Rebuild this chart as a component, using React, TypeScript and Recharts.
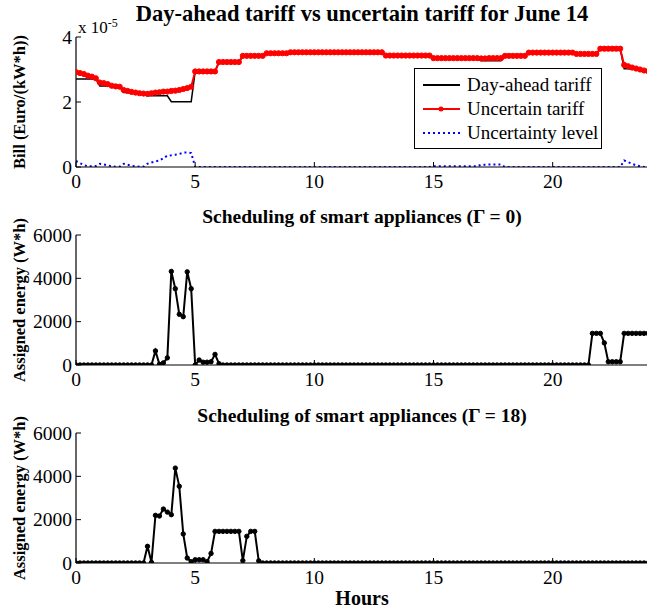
import { LineChart, Line, XAxis, YAxis, Legend } from "recharts";

// one sample every 10 minutes, 0h .. 24h
const hours = Array.from({ length: 145 }, (_, i) => i / 6);
const hourTicks = [0, 5, 10, 15, 20];
const billTicks = [0, 2, 4];
const energyTicks = [0, 2000, 4000, 6000];

// tariffs in units of 1e-5 Euro/(kW*h)
const dayAheadTariff = [
  2.71, 2.71, 2.71, 2.71, 2.71, 2.71, 2.49, 2.49, 2.49, 2.49, 2.49, 2.49,
  2.29, 2.29, 2.29, 2.29, 2.29, 2.29, 2.19, 2.19, 2.19, 2.19, 2.19, 2.19,
  2.01, 2.01, 2.01, 2.01, 2.01, 2.01, 2.94, 2.94, 2.94, 2.94, 2.94, 2.94,
  3.23, 3.23, 3.23, 3.23, 3.23, 3.23, 3.42, 3.42, 3.42, 3.42, 3.42, 3.42,
  3.5, 3.5, 3.5, 3.5, 3.5, 3.5, 3.53, 3.53, 3.53, 3.53, 3.53, 3.53,
  3.53, 3.53, 3.53, 3.53, 3.53, 3.53, 3.53, 3.53, 3.53, 3.53, 3.53, 3.53,
  3.53, 3.53, 3.53, 3.53, 3.53, 3.53, 3.43, 3.43, 3.43, 3.43, 3.43, 3.43,
  3.43, 3.43, 3.43, 3.43, 3.43, 3.43, 3.33, 3.33, 3.33, 3.33, 3.33, 3.33,
  3.33, 3.33, 3.33, 3.33, 3.33, 3.33, 3.27, 3.27, 3.27, 3.27, 3.27, 3.27,
  3.42, 3.42, 3.42, 3.42, 3.42, 3.42, 3.52, 3.52, 3.52, 3.52, 3.52, 3.52,
  3.52, 3.52, 3.52, 3.52, 3.52, 3.52, 3.48, 3.48, 3.48, 3.48, 3.48, 3.48,
  3.64, 3.64, 3.64, 3.64, 3.64, 3.64, 3.02, 3.02, 3.01, 3.0, 2.98, 2.97,
  2.96,
];

const uncertainTariff = [
  2.92, 2.89, 2.86, 2.81, 2.78, 2.73, 2.6, 2.58, 2.55, 2.5, 2.48, 2.47,
  2.37, 2.34, 2.31, 2.29, 2.27, 2.26, 2.25, 2.27, 2.29, 2.3, 2.32, 2.32,
  2.34, 2.35, 2.37, 2.4, 2.43, 2.47, 2.94, 2.94, 2.94, 2.94, 2.94, 2.94,
  3.23, 3.23, 3.23, 3.23, 3.23, 3.23, 3.42, 3.42, 3.42, 3.42, 3.42, 3.42,
  3.5, 3.5, 3.5, 3.5, 3.5, 3.5, 3.53, 3.53, 3.53, 3.53, 3.53, 3.53,
  3.53, 3.53, 3.53, 3.53, 3.53, 3.53, 3.53, 3.53, 3.53, 3.53, 3.53, 3.53,
  3.53, 3.53, 3.53, 3.53, 3.53, 3.53, 3.43, 3.43, 3.43, 3.43, 3.43, 3.43,
  3.43, 3.43, 3.43, 3.43, 3.43, 3.43, 3.35, 3.35, 3.35, 3.35, 3.35, 3.35,
  3.35, 3.35, 3.35, 3.35, 3.35, 3.35, 3.34, 3.34, 3.35, 3.35, 3.35, 3.35,
  3.42, 3.42, 3.42, 3.42, 3.42, 3.42, 3.52, 3.52, 3.52, 3.52, 3.52, 3.52,
  3.52, 3.52, 3.52, 3.52, 3.52, 3.52, 3.48, 3.48, 3.48, 3.48, 3.48, 3.48,
  3.64, 3.64, 3.64, 3.64, 3.64, 3.64, 3.14, 3.1, 3.06, 3.03, 3.0, 2.97,
  2.95,
];

const uncertaintyLevel = [
  0.19, 0.12, 0.06, 0.02, 0.02, 0.03, 0.1, 0.08, 0.05, 0.02, 0.01, 0.01,
  0.1, 0.07, 0.04, 0.02, 0.01, 0.01, 0.1, 0.14, 0.17, 0.2, 0.27, 0.35,
  0.36, 0.38, 0.4, 0.44, 0.45, 0.43, 0, 0, 0, 0, 0, 0,
  0, 0, 0, 0, 0, 0, 0, 0, 0, 0, 0, 0,
  0, 0, 0, 0, 0, 0, 0, 0, 0, 0, 0, 0,
  0, 0, 0, 0, 0, 0, 0, 0, 0, 0, 0, 0,
  0, 0, 0, 0, 0, 0, 0, 0, 0, 0, 0, 0,
  0, 0, 0, 0, 0, 0, 0.02, 0.02, 0.02, 0.02, 0.02, 0.02,
  0.02, 0.02, 0.02, 0.02, 0.02, 0.02, 0.07, 0.07, 0.08, 0.08, 0.08, 0.08,
  0, 0, 0, 0, 0, 0, 0, 0, 0, 0, 0, 0,
  0, 0, 0, 0, 0, 0, 0, 0, 0, 0, 0, 0,
  0, 0, 0, 0, 0, 0, 0.2, 0.15, 0.1, 0.05, 0.02, 0,
  0,
];

// assigned energy (W*h), gamma = 0
const energyGamma0 = [
  0, 0, 0, 0, 0, 0, 0, 0, 0, 0, 0, 0,
  0, 0, 0, 0, 0, 0, 0, 0, 650, 30, 100, 330,
  4320, 3520, 2340, 2230, 4300, 3520, 0, 230, 130, 130, 150, 490,
  60, 0, 0, 0, 0, 0, 0, 0, 0, 0, 0, 0,
  0, 0, 0, 0, 0, 0, 0, 0, 0, 0, 0, 0,
  0, 0, 0, 0, 0, 0, 0, 0, 0, 0, 0, 0,
  0, 0, 0, 0, 0, 0, 0, 0, 0, 0, 0, 0,
  0, 0, 0, 0, 0, 0, 0, 0, 0, 0, 0, 0,
  0, 0, 0, 0, 0, 0, 0, 0, 0, 0, 0, 0,
  0, 0, 0, 0, 0, 0, 0, 0, 0, 0, 0, 0,
  0, 0, 0, 0, 0, 0, 0, 0, 0, 0, 1460, 1460,
  1460, 1020, 150, 150, 150, 150, 1460, 1460, 1460, 1460, 1460, 1460,
  1460,
];

// assigned energy (W*h), gamma = 18
const energyGamma18 = [
  0, 0, 0, 0, 0, 0, 0, 0, 0, 0, 0, 0,
  0, 0, 0, 0, 0, 0, 770, 30, 2200, 2170, 2490, 2350,
  2230, 4380, 3540, 1340, 230, 60, 150, 150, 150, 60, 440, 1460,
  1460, 1460, 1460, 1460, 1460, 1460, 110, 1230, 1460, 1460, 100, 0,
  0, 0, 0, 0, 0, 0, 0, 0, 0, 0, 0, 0,
  0, 0, 0, 0, 0, 0, 0, 0, 0, 0, 0, 0,
  0, 0, 0, 0, 0, 0, 0, 0, 0, 0, 0, 0,
  0, 0, 0, 0, 0, 0, 0, 0, 0, 0, 0, 0,
  0, 0, 0, 0, 0, 0, 0, 0, 0, 0, 0, 0,
  0, 0, 0, 0, 0, 0, 0, 0, 0, 0, 0, 0,
  0, 0, 0, 0, 0, 0, 0, 0, 0, 0, 0, 0,
  0, 0, 0, 0, 0, 0, 0, 0, 0, 0, 0, 0,
  0,
];

const tariffData = hours.map((t, i) => ({
  t,
  dayAhead: dayAheadTariff[i],
  uncertain: uncertainTariff[i],
  level: uncertaintyLevel[i],
}));
const gamma0Data = hours.map((t, i) => ({ t, energy: energyGamma0[i] }));
const gamma18Data = hours.map((t, i) => ({ t, energy: energyGamma18[i] }));

const serif = '"Liberation Serif", "Times New Roman", Times, serif';
const TICK_SIZE = 19.5;

// tick labels drawn by hand so the serif font really sticks
const BottomTick = (props: any) => (
  <text
    x={props.x}
    y={props.y}
    dy="0.71em"
    textAnchor="middle"
    style={{ fontFamily: serif, fontSize: TICK_SIZE }}
    fill="#000"
  >
    {props.payload.value}
  </text>
);

const LeftTick = (props: any) => (
  <text
    x={props.x}
    y={props.y}
    dy="0.35em"
    textAnchor="end"
    style={{ fontFamily: serif, fontSize: TICK_SIZE }}
    fill="#000"
  >
    {props.payload.value}
  </text>
);

const legendItems = [
  { name: "Day-ahead tariff", color: "#000", dash: undefined, dot: false },
  { name: "Uncertain tariff", color: "#ff0000", dash: undefined, dot: true },
  { name: "Uncertainty level", color: "#0000ff", dash: "2 3", dot: false },
];

function TariffLegend() {
  return (
    <div
      style={{
        border: "1px solid #000",
        background: "#fff",
        width: 186,
        height: 79,
        fontFamily: serif,
        fontSize: 19,
        color: "#000",
        position: "relative",
      }}
    >
      {legendItems.map((it, k) => (
        <div
          key={it.name}
          style={{
            position: "absolute",
            left: 0,
            top: 4 + k * 24,
            height: 24,
            display: "flex",
            alignItems: "center",
          }}
        >
          <svg width={52} height={24}>
            <line
              x1={8}
              x2={45}
              y1={12}
              y2={12}
              stroke={it.color}
              strokeWidth={2}
              strokeDasharray={it.dash}
            />
            {it.dot && <circle cx={26} cy={12} r={2.5} fill={it.color} />}
          </svg>
          <span style={{ lineHeight: "24px", whiteSpace: "nowrap" }}>{it.name}</span>
        </div>
      ))}
    </div>
  );
}

// MATLAB style box: inward ticks on all four sides
function axes(yMax: number, yTicks: number[]) {
  return [
    <XAxis
      key="xb"
      dataKey="t"
      type="number"
      domain={[0, 24]}
      ticks={hourTicks}
      allowDataOverflow
      height={28}
      tickSize={-5}
      tickMargin={12}
      tick={<BottomTick />}
      axisLine={{ stroke: "#000", strokeWidth: 1.2 }}
      tickLine={{ stroke: "#000" }}
    />,
    <XAxis
      key="xt"
      xAxisId="top"
      orientation="top"
      dataKey="t"
      type="number"
      domain={[0, 24]}
      ticks={hourTicks}
      allowDataOverflow
      height={0}
      tickSize={-5}
      tick={false}
      axisLine={{ stroke: "#000", strokeWidth: 1.2 }}
      tickLine={{ stroke: "#000" }}
    />,
    <YAxis
      key="yl"
      type="number"
      domain={[0, yMax]}
      ticks={yTicks}
      allowDataOverflow
      width={76}
      tickSize={-5}
      tickMargin={9}
      tick={<LeftTick />}
      axisLine={{ stroke: "#000", strokeWidth: 1.2 }}
      tickLine={{ stroke: "#000" }}
    />,
    <YAxis
      key="yr"
      yAxisId="right"
      orientation="right"
      type="number"
      domain={[0, yMax]}
      ticks={yTicks}
      allowDataOverflow
      width={0}
      tickSize={-5}
      tick={false}
      axisLine={{ stroke: "#000", strokeWidth: 1.2 }}
      tickLine={{ stroke: "#000" }}
    />,
  ];
}

const CHART_W = 660;
const CHART_H = 170;
const chartMargin = { top: 10, right: 12, bottom: 2, left: 0 };

function Title({ text, y, size }: { text: string; y: number; size: number }) {
  return (
    <div
      style={{
        position: "absolute",
        left: 362,
        top: y,
        transform: "translate(-50%, -50%)",
        fontFamily: serif,
        fontWeight: "bold",
        fontSize: size,
        lineHeight: 1,
        whiteSpace: "nowrap",
        color: "#000",
      }}
    >
      {text}
    </div>
  );
}

function YLabel({ text, y }: { text: string; y: number }) {
  return (
    <div
      style={{
        position: "absolute",
        left: 20,
        top: y,
        transform: "translate(-50%, -50%) rotate(-90deg)",
        fontFamily: serif,
        fontWeight: "bold",
        fontSize: 16.5,
        lineHeight: 1,
        whiteSpace: "nowrap",
        color: "#000",
      }}
    >
      {text}
    </div>
  );
}

export default function App() {
  return (
    <div
      style={{
        position: "absolute",
        left: 0,
        top: 0,
        width: 647,
        height: 609,
        overflow: "hidden",
        background: "#fff",
        fontFamily: serif,
      }}
    >
      <Title text="Day-ahead tariff vs uncertain tariff for June 14" y={14} size={22.5} />
      <Title text="Scheduling of smart appliances (Γ = 0)" y={217} size={19.5} />
      <Title text="Scheduling of smart appliances (Γ = 18)" y={416} size={19.5} />
      <YLabel text="Bill (Euro/(kW*h))" y={102} />
      <YLabel text="Assigned energy (W*h)" y={300} />
      <YLabel text="Assigned energy (W*h)" y={498} />

      {/* tariff panel */}
      <div style={{ position: "absolute", left: 0, top: 27 }}>
        <LineChart width={CHART_W} height={CHART_H} data={tariffData} margin={chartMargin}>
          {axes(4, billTicks)}
          <Line
            dataKey="dayAhead"
            stroke="#000"
            strokeWidth={1.5}
            dot={false}
            isAnimationActive={false}
          />
          <Line
            dataKey="uncertain"
            stroke="#ff0000"
            strokeWidth={2}
            dot={{ r: 2.6, fill: "#ff0000", stroke: "#ff0000", strokeWidth: 1 }}
            isAnimationActive={false}
          />
          <Line
            dataKey="level"
            stroke="#0000ff"
            strokeWidth={2}
            strokeDasharray="2 3"
            dot={false}
            isAnimationActive={false}
          />
          <Legend
            layout="horizontal"
            verticalAlign="middle"
            align="center"
            content={() => <TariffLegend />}
            wrapperStyle={{ left: 414, top: 41, width: "auto" }}
          />
        </LineChart>
      </div>
      <div
        style={{
          position: "absolute",
          left: 78,
          top: 17,
          fontSize: 17,
          lineHeight: 1,
          whiteSpace: "nowrap",
          color: "#000",
        }}
      >
        x 10<sup style={{ fontSize: 12, verticalAlign: "6px" }}>-5</sup>
      </div>

      {/* gamma = 0 */}
      <div style={{ position: "absolute", left: 0, top: 225 }}>
        <LineChart width={CHART_W} height={CHART_H} data={gamma0Data} margin={chartMargin}>
          {axes(6000, energyTicks)}
          <Line
            dataKey="energy"
            stroke="#000"
            strokeWidth={2}
            dot={{ r: 2.2, fill: "#000", stroke: "#000", strokeWidth: 1 }}
            isAnimationActive={false}
          />
        </LineChart>
      </div>

      {/* gamma = 18 */}
      <div style={{ position: "absolute", left: 0, top: 423 }}>
        <LineChart width={CHART_W} height={CHART_H} data={gamma18Data} margin={chartMargin}>
          {axes(6000, energyTicks)}
          <Line
            dataKey="energy"
            stroke="#000"
            strokeWidth={2}
            dot={{ r: 2.2, fill: "#000", stroke: "#000", strokeWidth: 1 }}
            isAnimationActive={false}
          />
        </LineChart>
      </div>

      <div
        style={{
          position: "absolute",
          left: 362,
          top: 598,
          transform: "translate(-50%, -50%)",
          fontWeight: "bold",
          fontSize: 20,
          lineHeight: 1,
          color: "#000",
        }}
      >
        Hours
      </div>
    </div>
  );
}
